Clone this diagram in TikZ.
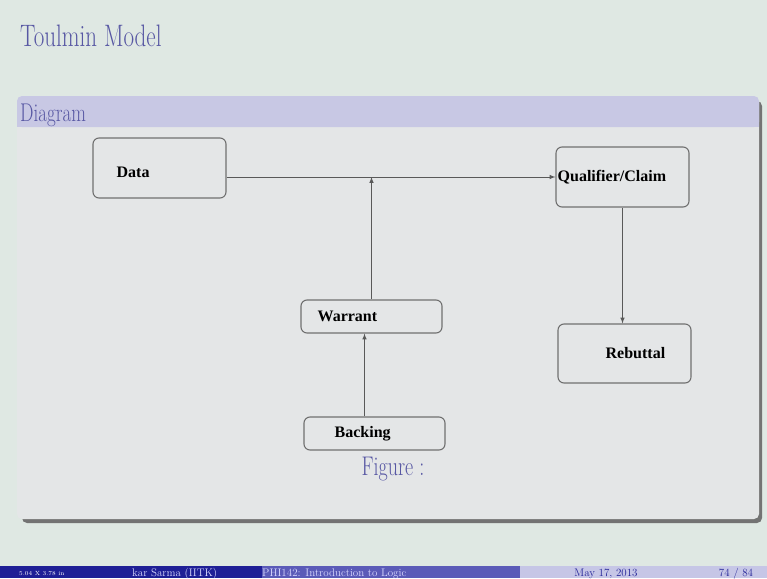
\documentclass[tikz,border=0pt]{standalone}
\usepackage{fontspec}
\usepackage{graphicx}
\newfontfamily\figfont{Liberation Serif}
\usetikzlibrary{positioning}

\definecolor{slidebg}{HTML}{DFE8E3}
\definecolor{slidetitle}{HTML}{5757A3}
\definecolor{blockhead}{HTML}{C8C8E4}
\definecolor{blockbody}{HTML}{E4E6E7}
\definecolor{boxline}{HTML}{707070}
\definecolor{footdark}{HTML}{1F1F96}
\definecolor{footmid}{HTML}{5B5BB8}
\definecolor{footlight}{HTML}{C6C6E6}

% slide text is drawn taller than wide in the screenshot
\newcommand{\tallify}[1]{\scalebox{1}[1.35]{#1}}

\tikzset{
  fbox/.style={draw=boxline,fill=blockbody,rounded corners=6pt,line width=1.1pt},
  flabel/.style={font=\figfont\bfseries\fontsize{16}{18}\selectfont,inner sep=0pt,anchor=west},
  flow/.style={-latex,draw=black!65,line width=1pt},
  foottext/.style={anchor=base west,font=\fontsize{11}{13}\selectfont,inner sep=0pt}
}

\begin{document}
\begin{tikzpicture}[x=1pt,y=-1pt]
    \useasboundingbox (0,0) rectangle (767,578);
    \fill[slidebg] (0,0) rectangle (767,578);

    \node[anchor=base west,text=slidetitle,font=\fontsize{23}{26}\selectfont,inner sep=0pt] (title) at (20,47) {\tallify{Toulmin Model}};

    % block with its shadow
    \fill[black!55,rounded corners=5pt] (22,101) rectangle (762,523);
    \fill[blockbody,rounded corners=5pt] (17,96) rectangle (759,519);
    \fill[blockhead,rounded corners=5pt] (17,96) rectangle (759,127);
    \fill[blockhead] (17,115) rectangle (759,127);
    \node[anchor=base west,text=slidetitle,font=\fontsize{19}{22}\selectfont,inner sep=0pt] (head) at (20,121) {\tallify{Diagram}};

    % the diagram
    \node[fbox,minimum width=133pt,minimum height=60pt] (data) at (159.5,168) {};
    \node[fbox,minimum width=133pt,minimum height=60pt] (claim) at (622.5,177) {};
    \node[fbox,minimum width=141pt,minimum height=33pt] (warrant) at (371.5,316.5) {};
    \node[fbox,minimum width=141pt,minimum height=33pt] (backing) at (374.5,433.5) {};
    \node[fbox,minimum width=133pt,minimum height=59pt] (rebuttal) at (624.5,353.5) {};

    \node[flabel] (datat) at ([xshift=24pt,yshift=-4pt]data.west) {Data};
    \node[flabel] (claimt) at ([xshift=2pt]claim.west) {Qualifier/Claim};
    \node[flabel] (warrantt) at ([xshift=17pt]warrant.west) {Warrant};
    \node[flabel] (backingt) at ([xshift=31pt]backing.west) {Backing};
    \node[flabel] (rebuttalt) at ([xshift=48pt]rebuttal.west) {Rebuttal};

    \coordinate (join) at (warrant.north |- claim.west);
    \draw[flow] (data.east |- claim.west) -- (claim.west);
    \draw[flow] (warrant.north) -- (join);
    \draw[flow] ([xshift=-10pt]backing.north) -- ([xshift=-10pt]backing.north |- warrant.south);
    \draw[flow] (claim.south) -- (claim.south |- rebuttal.north);

    \node[anchor=base,text=slidetitle,font=\fontsize{20}{23}\selectfont,inner sep=0pt] (caption) at (393,475) {\tallify{Figure :}};

    % footline
    \fill[footdark] (0,566) rectangle (262,578);
    \fill[footmid] (262,566) rectangle (520,578);
    \fill[footlight] (520,566) rectangle (767,578);
    \node[foottext,text=white,font=\fontsize{6}{7}\selectfont] (size) at (19,575) {5.04 X 3.78 in};
    \node[foottext,text=white!85!blue] (author) at (132,576) {kar Sarma (IITK)};
    \node[foottext,text=white!85!blue] (course) at (262,576) {PHI142: Introduction to Logic};
    \node[foottext,anchor=base,text=footdark] (date) at (606,576) {May 17, 2013};
    \node[foottext,anchor=base,text=footdark] (page) at (736,576) {74 / 84};
\end{tikzpicture}
\end{document}
